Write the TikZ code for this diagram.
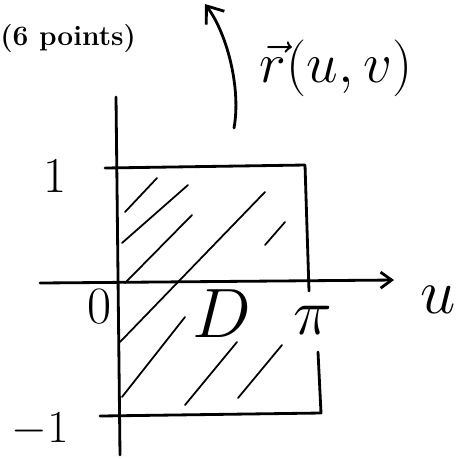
\documentclass[tikz,border=0pt]{standalone}
\usepackage{graphicx}
\usetikzlibrary{arrows.meta}
\tikzset{
  axis/.style={line width=1.6pt},
  edge/.style={line width=1.6pt},
  hatch/.style={line width=1pt},
  hand/.style={inner sep=0pt,font=\fontsize{24}{28}\selectfont},
}
\begin{document}
\begin{tikzpicture}[x=0.02cm,y=-0.02cm,line cap=round,line join=round]
  \useasboundingbox (0,0) rectangle (469,458);
  \node[anchor=west,inner sep=0pt,font=\bfseries\fontsize{16}{20}\selectfont] (pts) at (0,38) {(6 points)};
  % axes
  \coordinate (ul) at (40,283);
  \coordinate (ur) at (394,280);
  \coordinate (vb) at (120,455);
  \coordinate (vt) at (116,97);
  \draw[axis,-{Straight Barb[length=2.2mm,width=3.2mm]}] (ul) -- (ur);
  \draw[axis] (vb) -- (vt);
  % map arrow
  \coordinate (mapb) at (234,128);
  \coordinate (mapt) at (205,4);
  \draw[axis,-{Straight Barb[length=3mm,width=4.5mm]}] (mapb) .. controls (241,90) and (228,35) .. (mapt);
  % rectangle D
  \coordinate (tl) at (105,168);
  \coordinate (tr) at (305,165);
  \coordinate (rm) at (309,291);
  \coordinate (rl) at (318,352);
  \coordinate (br) at (321,413);
  \coordinate (bl) at (100,416);
  \draw[edge] (tl) -- (tr) -- (rm);
  \draw[edge] (rl) -- (br) -- (bl);
  \foreach \xa/\ya/\xb/\yb in {125/212/157/178, 122/243/188/185, 125/283/192/215,
      120/342/265/192, 265/245/285/222, 122/397/185/317, 185/405/237/342, 238/398/282/345}
    \draw[hatch] (\xa,\ya) -- (\xb,\yb);
  % labels
  \node[hand] (one) at (55,176) {\scalebox{1.15}{$1$}};
  \node[hand] (mone) at (40,430) {\scalebox{1.05}{$-1$}};
  \node[hand] (zero) at (100,307) {\scalebox{1.2}{$0$}};
  \node[hand] (dom) at (222,314) {\scalebox{1.6}{$D$}};
  \node[hand] (pival) at (313,320) {\scalebox{1.5}{$\pi$}};
  \node[hand] (uvar) at (438,300) {\scalebox{1.45}{$u$}};
  \node[hand] (rmap) at (336,68) {\scalebox{1.3}{$\vec r(u,v)$}};
\end{tikzpicture}
\end{document}
